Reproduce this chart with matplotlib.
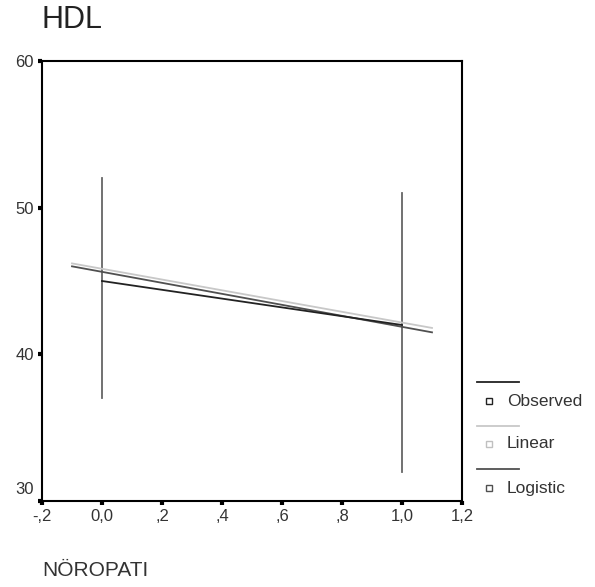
import matplotlib.pyplot as plt
import matplotlib.transforms as mtransforms
from matplotlib.lines import Line2D

plt.rcParams['font.family'] = ['Liberation Sans', 'DejaVu Sans']

# data
groups = [0.0, 1.0]
obs_mean = [45.0, 42.0]
obs_min = [37.0, 32.0]
obs_max = [52.0, 51.0]
fit_x = [-0.1, 1.1]
linear_fit = [46.2, 41.8]
logistic_fit = [46.0, 41.5]

xticks = [-0.2, 0.0, 0.2, 0.4, 0.6, 0.8, 1.0, 1.2]
xlabels = ['-,2', '0,0', ',2', ',4', ',6', ',8', '1,0', '1,2']
yticks = [30, 40, 50, 60]

W, H = 595, 587
fig = plt.figure(figsize=(W / 100, H / 100), dpi=100)
ax = fig.add_axes([42 / W, 1 - 501 / H, 420 / W, 440 / H])

# range bars at each group
for g, lo, hi in zip(groups, obs_min, obs_max):
    ax.plot([g, g], [lo, hi], color='#666666', lw=1.3)

ax.plot(fit_x, linear_fit, color='#c8c8c8', lw=1.3)
ax.plot(fit_x, logistic_fit, color='#505050', lw=1.3)
ax.plot(groups, obs_mean, color='#222222', lw=1.3)

ax.set_xlim(-0.2, 1.2)
ax.set_ylim(30, 60)
ax.set_xticks(xticks)
ax.set_xticklabels(xlabels)
ax.set_yticks(yticks)
ax.tick_params(direction='out', length=3, width=3, labelsize=12, pad=3,
               labelcolor='#333333')
for s in ax.spines.values():
    s.set_linewidth(1.5)

# lowest y label sits a bit above its tick, as in SPSS output
lab30 = ax.get_yticklabels()[0]
lab30.set_transform(lab30.get_transform() +
                    mtransforms.ScaledTranslation(0, 13 / 100, fig.dpi_scale_trans))

fig.text(42 / W, 1 - 20 / H, 'HDL', fontsize=22, va='center', ha='left',
         color='#222222')
fig.text(42 / W, 1 - 571 / H, 'NÖROPATI', fontsize=15, va='center', ha='left',
         color='#333333')

# legend drawn by hand (SPSS style)
items = [('Observed', '#222222', '#222222'),
         ('Linear', '#c8c8c8', '#c0c0c0'),
         ('Logistic', '#505050', '#505050')]
line_y = [382, 426, 469]
mark_y = [401, 444, 488]
for (lab, lc, mc), ly, my in zip(items, line_y, mark_y):
    fig.add_artist(Line2D([477 / W, 519 / W], [1 - ly / H, 1 - ly / H],
                          color=lc, lw=1.3))
    fig.add_artist(Line2D([489 / W], [1 - my / H], marker='s', markersize=4,
                          markerfacecolor='white', markeredgecolor=mc, lw=0))
    fig.text(507 / W, 1 - my / H, lab, fontsize=12.5, va='center', ha='left',
             color='#333333')

fig.savefig('out.png', dpi=100)
